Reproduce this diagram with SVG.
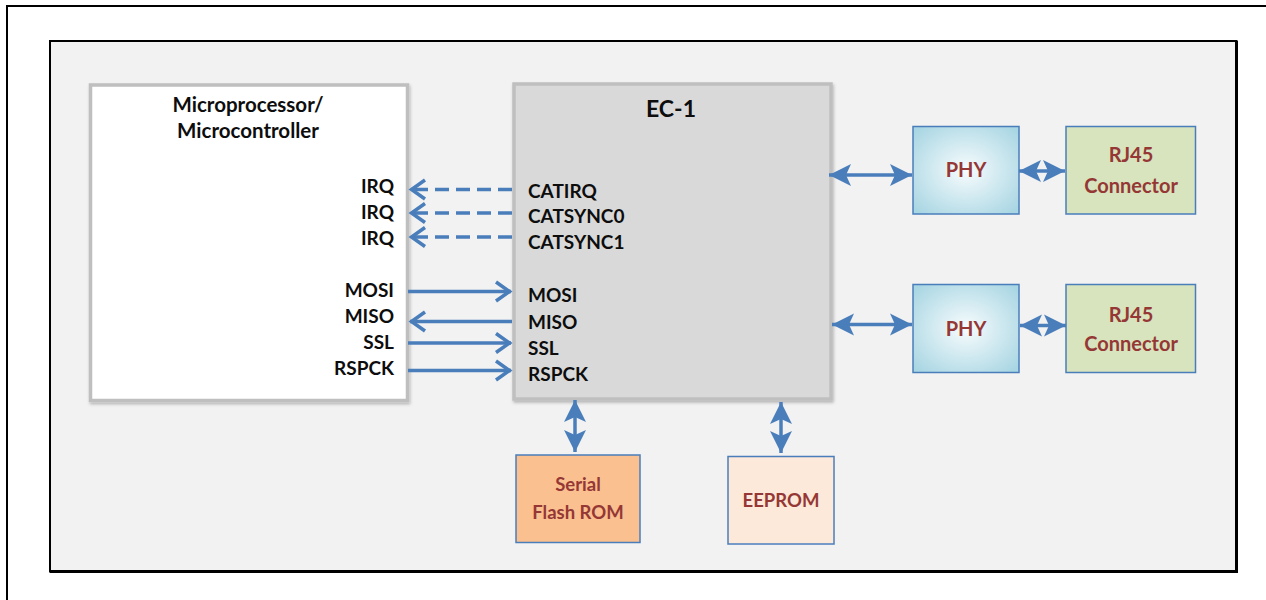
<svg xmlns="http://www.w3.org/2000/svg" width="1266" height="600" viewBox="0 0 1266 600">
  <style>
    .lbl { font-family: Lato, "Liberation Sans", sans-serif; font-weight: bold; font-size: 19px; fill: #0d0d0d; }
    .big { font-size: 20.5px; }
    .title { font-size: 23px; }
    .red { font-family: Lato, "Liberation Sans", sans-serif; font-weight: bold; font-size: 20px; fill: #953735; text-anchor: middle; }
    .mem { font-size: 18.5px; }
    .r { text-anchor: end; }
    .wire { stroke: #4a7ebb; stroke-width: 3.5; fill: none; }
    .dash { stroke-dasharray: 14 7; }
    .chip { stroke: #4a7ebb; stroke-width: 1.5; }
    .gray { stroke: #bfbfbf; stroke-width: 3.5; }
  </style>
  <defs>
    <marker id="open" markerUnits="userSpaceOnUse" markerWidth="24" markerHeight="28" viewBox="-20 -14 24 28" refX="0" refY="0" orient="auto-start-reverse">
      <path d="M -15 -9.5 L -1.5 0 L -15 9.5" fill="none" stroke="#4a7ebb" stroke-width="3.5" stroke-linejoin="miter"/>
    </marker>
    <marker id="solid" markerUnits="userSpaceOnUse" markerWidth="26" markerHeight="26" viewBox="-24 -13 26 26" refX="0" refY="0" orient="auto-start-reverse">
      <path d="M 0 0 L -22 -11 L -17 0 L -22 11 Z" fill="#4a7ebb"/>
    </marker>
    <radialGradient id="phyFill" cx="50%" cy="50%" r="65%">
      <stop offset="0" stop-color="#f7fcfd"/>
      <stop offset="1" stop-color="#a9d6e3"/>
    </radialGradient>
    <filter id="shadow" x="-5%" y="-5%" width="110%" height="110%">
      <feDropShadow dx="1" dy="2" stdDeviation="1.5" flood-color="#000" flood-opacity="0.25"/>
    </filter>
  </defs>

  <!-- page frame -->
  <rect x="0" y="0" width="1266" height="600" fill="#ffffff"/>
  <path d="M 7 600 L 7 6 L 1266 6" fill="none" stroke="#000" stroke-width="2"/>

  <!-- board area -->
  <rect x="50" y="41" width="1186.5" height="530.5" fill="#f2f2f2" stroke="#000" stroke-width="2"/>
  <path d="M 1236.5 41 L 1236.5 571.5 L 50 571.5" fill="none" stroke="#000" stroke-width="3"/>

  <g id="mcu">
    <rect x="90.5" y="85" width="317" height="315.5" fill="#ffffff" class="gray" filter="url(#shadow)"/>
    <text class="lbl big" x="248" y="112" text-anchor="middle">Microprocessor/</text>
    <text class="lbl big" x="248" y="138" text-anchor="middle">Microcontroller</text>
    <text class="lbl r" x="394" y="193">IRQ</text>
    <text class="lbl r" x="394" y="219">IRQ</text>
    <text class="lbl r" x="394" y="245">IRQ</text>
    <text class="lbl r" x="394" y="297">MOSI</text>
    <text class="lbl r" x="394" y="323">MISO</text>
    <text class="lbl r" x="394" y="349">SSL</text>
    <text class="lbl r" x="394" y="375">RSPCK</text>
  </g>

  <g id="ec1">
    <rect x="514" y="84" width="317" height="315" fill="#d9d9d9" class="gray" filter="url(#shadow)"/>
    <text class="lbl title" x="671" y="117" text-anchor="middle">EC-1</text>
    <text class="lbl" x="528" y="198">CATIRQ</text>
    <text class="lbl" x="528" y="223">CATSYNC0</text>
    <text class="lbl" x="528" y="249">CATSYNC1</text>
    <text class="lbl" x="528" y="302">MOSI</text>
    <text class="lbl" x="528" y="329">MISO</text>
    <text class="lbl" x="528" y="355">SSL</text>
    <text class="lbl" x="528" y="381">RSPCK</text>
  </g>

  <g id="phy1">
    <rect x="913" y="126.5" width="106" height="87.5" fill="url(#phyFill)" class="chip"/>
    <text class="red" x="966" y="177">PHY</text>
  </g>
  <g id="rj45-1">
    <rect x="1066" y="126.5" width="129.5" height="87.5" fill="#d7e4bd" class="chip"/>
    <text class="red" x="1131" y="162">RJ45</text>
    <text class="red big" x="1131" y="193">Connector</text>
  </g>
  <g id="phy2">
    <rect x="913" y="284.5" width="106" height="88" fill="url(#phyFill)" class="chip"/>
    <text class="red" x="966" y="336">PHY</text>
  </g>
  <g id="rj45-2">
    <rect x="1066" y="284.5" width="129.5" height="88" fill="#d7e4bd" class="chip"/>
    <text class="red" x="1131" y="322">RJ45</text>
    <text class="red big" x="1131" y="351">Connector</text>
  </g>
  <g id="flash">
    <rect x="516" y="455" width="124" height="87.5" fill="#fac090" class="chip"/>
    <text class="red mem" x="578" y="491">Serial</text>
    <text class="red mem" x="578" y="519">Flash ROM</text>
  </g>
  <g id="eeprom">
    <rect x="728" y="456.5" width="106" height="87.5" fill="#fde9d9" class="chip"/>
    <text class="red mem" x="781" y="507">EEPROM</text>
  </g>

  <g id="connectors">
    <!-- interrupt lines (dashed) -->
    <path class="wire dash" d="M 512 189.5 L 410 189.5" marker-end="url(#open)"/>
    <path class="wire dash" d="M 512 213 L 410 213" marker-end="url(#open)"/>
    <path class="wire dash" d="M 512 237 L 410 237" marker-end="url(#open)"/>
    <!-- SPI lines -->
    <path class="wire" d="M 408 291.5 L 511 291.5" marker-end="url(#open)"/>
    <path class="wire" d="M 512 321.5 L 410 321.5" marker-end="url(#open)"/>
    <path class="wire" d="M 408 343 L 511 343" marker-end="url(#open)"/>
    <path class="wire" d="M 408 370.5 L 511 370.5" marker-end="url(#open)"/>
    <!-- ports -->
    <path class="wire" d="M 829 175 L 912 175" marker-start="url(#solid)" marker-end="url(#solid)"/>
    <path class="wire" d="M 1019 171 L 1065 171" marker-start="url(#solid)" marker-end="url(#solid)"/>
    <path class="wire" d="M 832 324.5 L 912 324.5" marker-start="url(#solid)" marker-end="url(#solid)"/>
    <path class="wire" d="M 1020 325.5 L 1066 325.5" marker-start="url(#solid)" marker-end="url(#solid)"/>
    <!-- memories -->
    <path class="wire" d="M 575 400 L 575 452" marker-start="url(#solid)" marker-end="url(#solid)"/>
    <path class="wire" d="M 781 402 L 781 453" marker-start="url(#solid)" marker-end="url(#solid)"/>
  </g>
</svg>
